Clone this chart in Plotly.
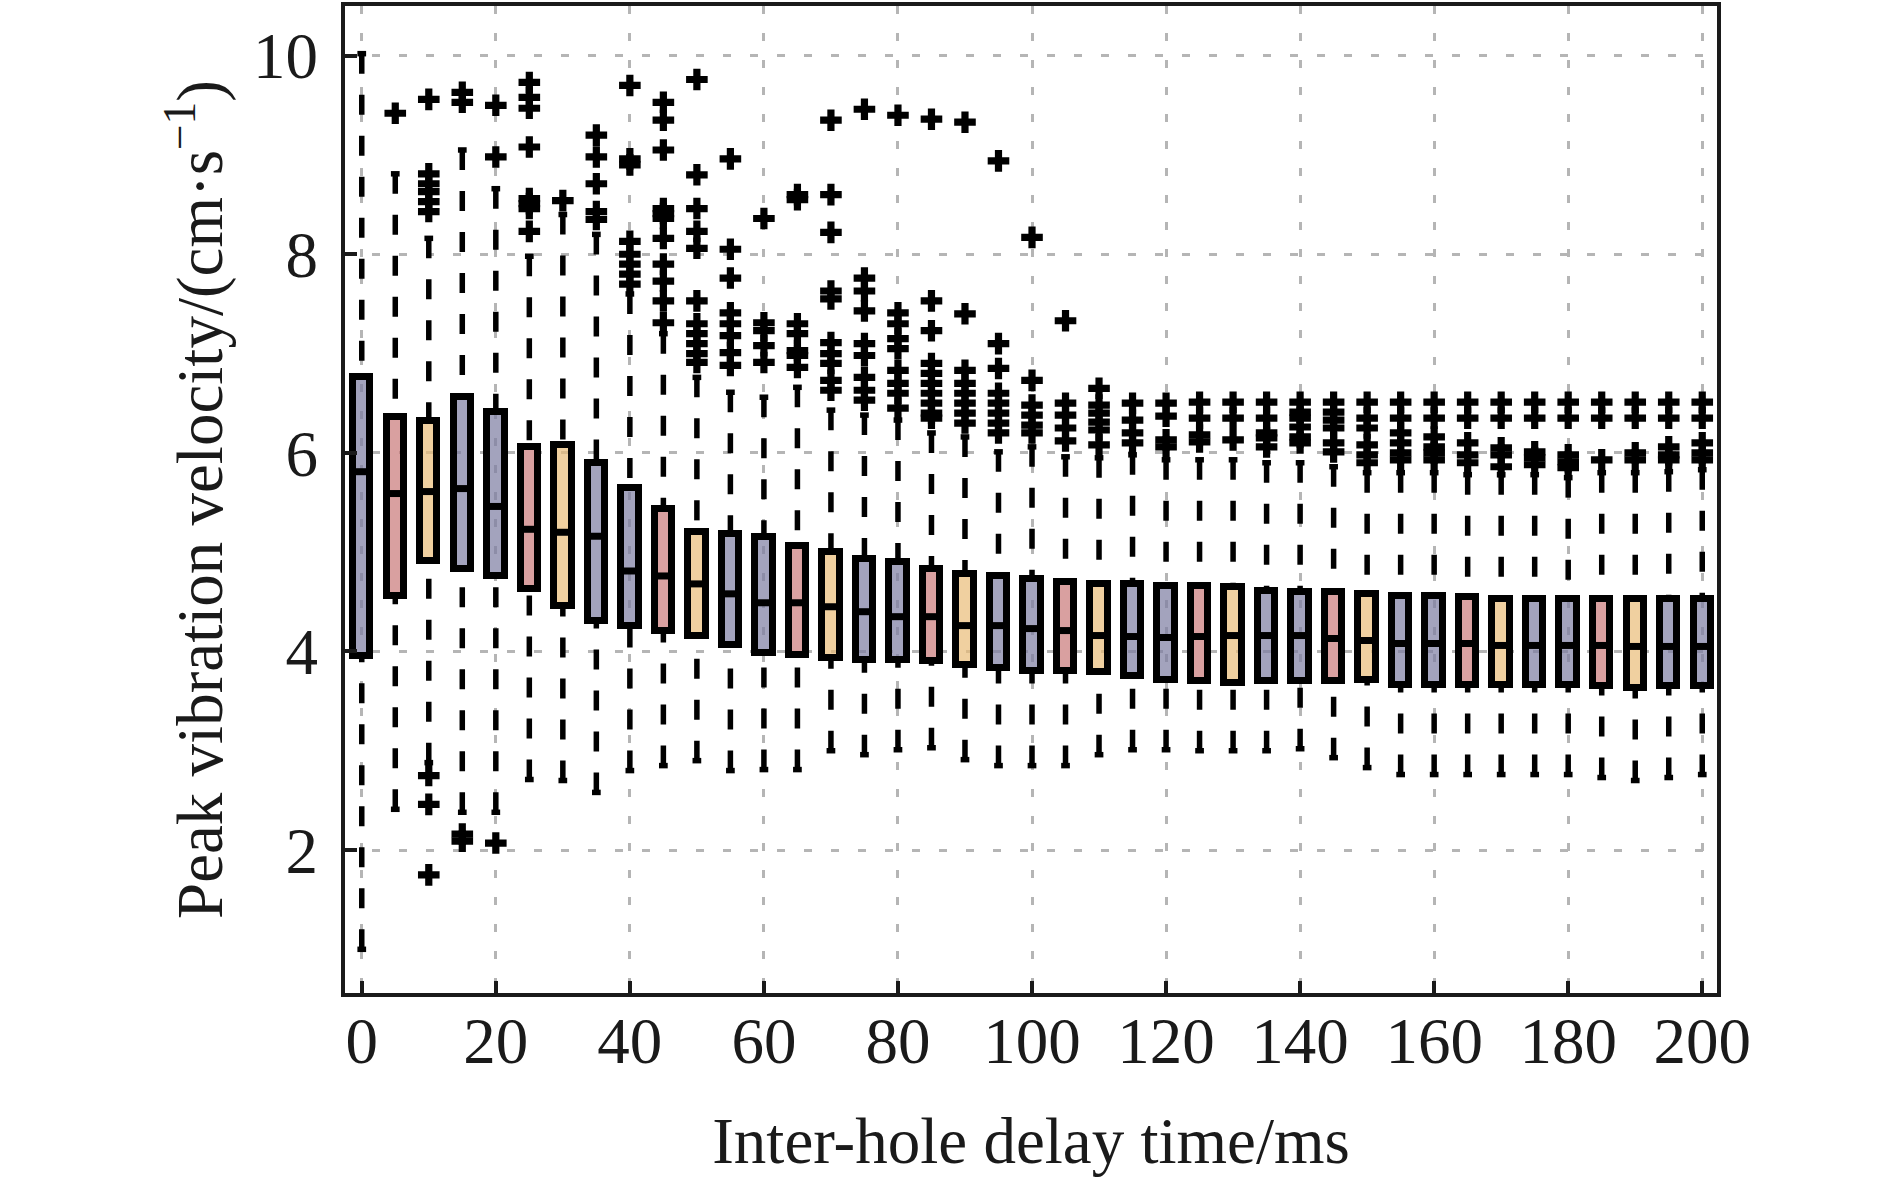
import plotly.graph_objects as go

# Inter-hole delay (ms) and box statistics
delay = [0, 5, 10, 15, 20, 25, 30, 35, 40, 45, 50, 55, 60, 65, 70, 75, 80, 85, 90, 95,
         100, 105, 110, 115, 120, 125, 130, 135, 140, 145, 150, 155, 160, 165, 170, 175,
         180, 185, 190, 195, 200]

lower_whisker = [1.00, 2.41, 2.88, 2.38, 2.38, 2.71, 2.70, 2.58, 2.80, 2.85, 2.90, 2.80, 2.81,
                 2.81, 3.00, 2.96, 3.01, 3.03, 2.91, 2.85, 2.85, 2.85, 2.96, 3.01, 3.01, 3.00,
                 3.00, 3.00, 3.02, 2.93, 2.83, 2.76, 2.76, 2.76, 2.76, 2.76, 2.76, 2.73, 2.70,
                 2.73, 2.76]
q1 = [3.95, 4.56, 4.91, 4.83, 4.76, 4.63, 4.46, 4.31, 4.26, 4.21, 4.16, 4.06, 3.98, 3.96,
      3.93, 3.91, 3.91, 3.90, 3.86, 3.83, 3.80, 3.80, 3.79, 3.75, 3.71, 3.70, 3.68, 3.70,
      3.70, 3.70, 3.71, 3.66, 3.66, 3.66, 3.66, 3.66, 3.66, 3.65, 3.63, 3.65, 3.65]
median = [5.81, 5.59, 5.61, 5.64, 5.46, 5.23, 5.20, 5.16, 4.81, 4.76, 4.68, 4.58, 4.49, 4.49,
          4.45, 4.40, 4.35, 4.35, 4.26, 4.26, 4.23, 4.21, 4.16, 4.15, 4.14, 4.15, 4.16, 4.16,
          4.16, 4.13, 4.11, 4.08, 4.08, 4.08, 4.06, 4.06, 4.06, 4.06, 4.05, 4.05, 4.05]
q3 = [6.76, 6.36, 6.32, 6.56, 6.41, 6.06, 6.08, 5.90, 5.65, 5.43, 5.20, 5.18, 5.15, 5.06,
      5.00, 4.93, 4.90, 4.83, 4.78, 4.76, 4.73, 4.70, 4.68, 4.68, 4.66, 4.66, 4.65, 4.61,
      4.60, 4.60, 4.58, 4.56, 4.56, 4.55, 4.53, 4.53, 4.53, 4.53, 4.53, 4.53, 4.53]
upper_whisker = [10.02, 8.81, 8.16, 9.05, 8.66, 7.98, 8.40, 8.20, 7.60, 7.20, 6.76, 6.61, 6.56,
                 6.66, 6.43, 6.38, 6.33, 6.20, 6.16, 6.01, 6.06, 5.96, 5.95, 5.98, 5.93, 5.93,
                 5.93, 5.90, 5.90, 5.86, 5.80, 5.80, 5.80, 5.78, 5.78, 5.78, 5.75, 5.80, 5.80,
                 5.81, 5.83]
outliers = [
    [],
    [9.42],
    [9.56, 8.81, 8.71, 8.63, 8.53, 8.43, 2.75, 2.46, 1.75],
    [9.63, 9.53, 2.16, 2.09],
    [9.50, 8.98, 2.07],
    [9.73, 9.58, 9.47, 9.08, 8.56, 8.51, 8.46, 8.23],
    [8.54],
    [9.20, 8.98, 8.71, 8.43, 8.35],
    [9.70, 8.96, 8.90, 8.13, 8.00, 7.90, 7.80, 7.70],
    [9.53, 9.35, 9.05, 8.46, 8.41, 8.36, 8.16, 7.90, 7.73, 7.53, 7.31],
    [9.76, 8.80, 8.46, 8.23, 8.06, 7.53, 7.30, 7.20, 7.10, 7.00, 6.91],
    [8.96, 8.05, 7.76, 7.41, 7.30, 7.18, 7.01, 6.88],
    [8.36, 7.31, 7.23, 7.08, 6.91],
    [8.60, 8.55, 7.30, 7.20, 7.03, 6.98, 6.86],
    [9.35, 8.60, 8.22, 7.63, 7.55, 7.11, 7.00, 6.90, 6.73, 6.63],
    [9.46, 7.76, 7.63, 7.43, 7.10, 6.98, 6.76, 6.63, 6.53],
    [9.40, 7.41, 7.30, 7.15, 7.05, 6.83, 6.70, 6.60, 6.45],
    [9.36, 7.53, 7.23, 6.90, 6.80, 6.70, 6.60, 6.50, 6.40, 6.35],
    [9.33, 7.40, 6.83, 6.70, 6.60, 6.50, 6.40, 6.30],
    [8.94, 7.10, 6.85, 6.60, 6.50, 6.40, 6.30, 6.20],
    [8.17, 6.73, 6.48, 6.38, 6.28, 6.20],
    [7.33, 6.50, 6.38, 6.25, 6.12],
    [6.65, 6.48, 6.40, 6.31, 6.23, 6.08],
    [6.50, 6.33, 6.20, 6.10],
    [6.50, 6.37, 6.13, 6.06],
    [6.51, 6.35, 6.18, 6.11],
    [6.51, 6.35, 6.13],
    [6.51, 6.35, 6.20, 6.15, 6.06],
    [6.51, 6.41, 6.35, 6.26, 6.16, 6.10],
    [6.51, 6.41, 6.33, 6.25, 6.10, 6.01],
    [6.51, 6.35, 6.25, 6.08, 5.98, 5.90],
    [6.51, 6.35, 6.20, 6.10, 6.00, 5.93],
    [6.51, 6.35, 6.16, 6.06, 6.00, 5.93],
    [6.51, 6.35, 6.10, 5.98, 5.90],
    [6.51, 6.35, 6.05, 5.98, 5.86],
    [6.51, 6.35, 6.01, 5.95, 5.88],
    [6.51, 6.35, 5.98, 5.91, 5.85],
    [6.51, 6.35, 5.93],
    [6.51, 6.35, 6.00, 5.93],
    [6.51, 6.35, 6.06, 5.98, 5.93],
    [6.51, 6.35, 6.10, 6.00, 5.93],
]

x_ticks = [0, 20, 40, 60, 80, 100, 120, 140, 160, 180, 200]
y_ticks = [2, 4, 6, 8, 10]

# fill colours cycle: blue-grey, pink, tan, blue-grey (semi transparent like the original)
palette = ['rgba(124,124,161,0.70)', 'rgba(201,119,119,0.70)',
           'rgba(234,188,119,0.70)', 'rgba(124,124,161,0.70)']
box_colors = [palette[i % 4] for i in range(len(delay))]

BOX_W = 2.6
CAP_W = 1.3
BOX_LW = 7      # box outline / median
WHISK_LW = 5.5  # dashed whiskers
FONT = 'Liberation Serif'

# whisker / median / cap segments built from the stats above
wx, wy, mx, my, cx, cy = [], [], [], [], [], []
for x, lo, a, m, b, hi in zip(delay, lower_whisker, q1, median, q3, upper_whisker):
    wx += [x, x, None, x, x, None]
    wy += [hi, b, None, lo, a, None]
    mx += [x - BOX_W / 2, x + BOX_W / 2, None]
    my += [m, m, None]
    for v in (lo, hi):
        cx += [x - CAP_W / 2, x + CAP_W / 2, None]
        cy += [v, v, None]

ox, oy = [], []
for x, vals in zip(delay, outliers):
    ox += [x] * len(vals)
    oy += vals

fig = go.Figure()

fig.add_trace(go.Scatter(x=wx, y=wy, mode='lines', showlegend=False, hoverinfo='skip',
                         line=dict(color='black', width=WHISK_LW, dash='20px,21px')))
fig.add_trace(go.Scatter(x=cx, y=cy, mode='lines', showlegend=False, hoverinfo='skip',
                         line=dict(color='black', width=WHISK_LW)))
fig.add_trace(go.Bar(x=delay, y=[b - a for a, b in zip(q1, q3)], base=q1, width=BOX_W,
                     marker=dict(color=box_colors, line=dict(color='black', width=BOX_LW)),
                     showlegend=False))
fig.add_trace(go.Scatter(x=mx, y=my, mode='lines', showlegend=False, hoverinfo='skip',
                         line=dict(color='black', width=BOX_LW)))
fig.add_trace(go.Scatter(x=ox, y=oy, mode='markers', showlegend=False,
                         marker=dict(symbol='cross', size=18, color='black')))

axis_common = dict(
    showline=True, linecolor='#1a1a1a', linewidth=4, mirror=True,
    ticks='inside', ticklen=12, tickwidth=4, tickcolor='#1a1a1a',
    showgrid=True, gridcolor='#b5b5b5', gridwidth=2.5, griddash='8px,19px',
    zeroline=False, tickfont=dict(family=FONT, size=65, color='#1a1a1a'),
)

fig.update_layout(
    width=1890, height=1184,
    margin=dict(l=345, r=173, t=2, b=191),
    paper_bgcolor='white', plot_bgcolor='white',
    bargap=0,
    xaxis=dict(range=[-2.5, 202.2], tickvals=x_ticks, ticklabelstandoff=-12,
               title=dict(text='Inter-hole delay time/ms', standoff=42,
                          font=dict(family=FONT, size=65, color='#1a1a1a')),
               **axis_common),
    yaxis=dict(range=[0.56, 10.5], tickvals=y_ticks, ticklabelstandoff=10,
               title=dict(text='Peak vibration velocity/(cm·s<sup>−1</sup>)', standoff=10,
                          font=dict(family=FONT, size=65, color='#1a1a1a')),
               **axis_common),
)

fig.write_html("out.html", config={'displayModeBar': False},
               post_script="document.body.style.margin='0px';")
